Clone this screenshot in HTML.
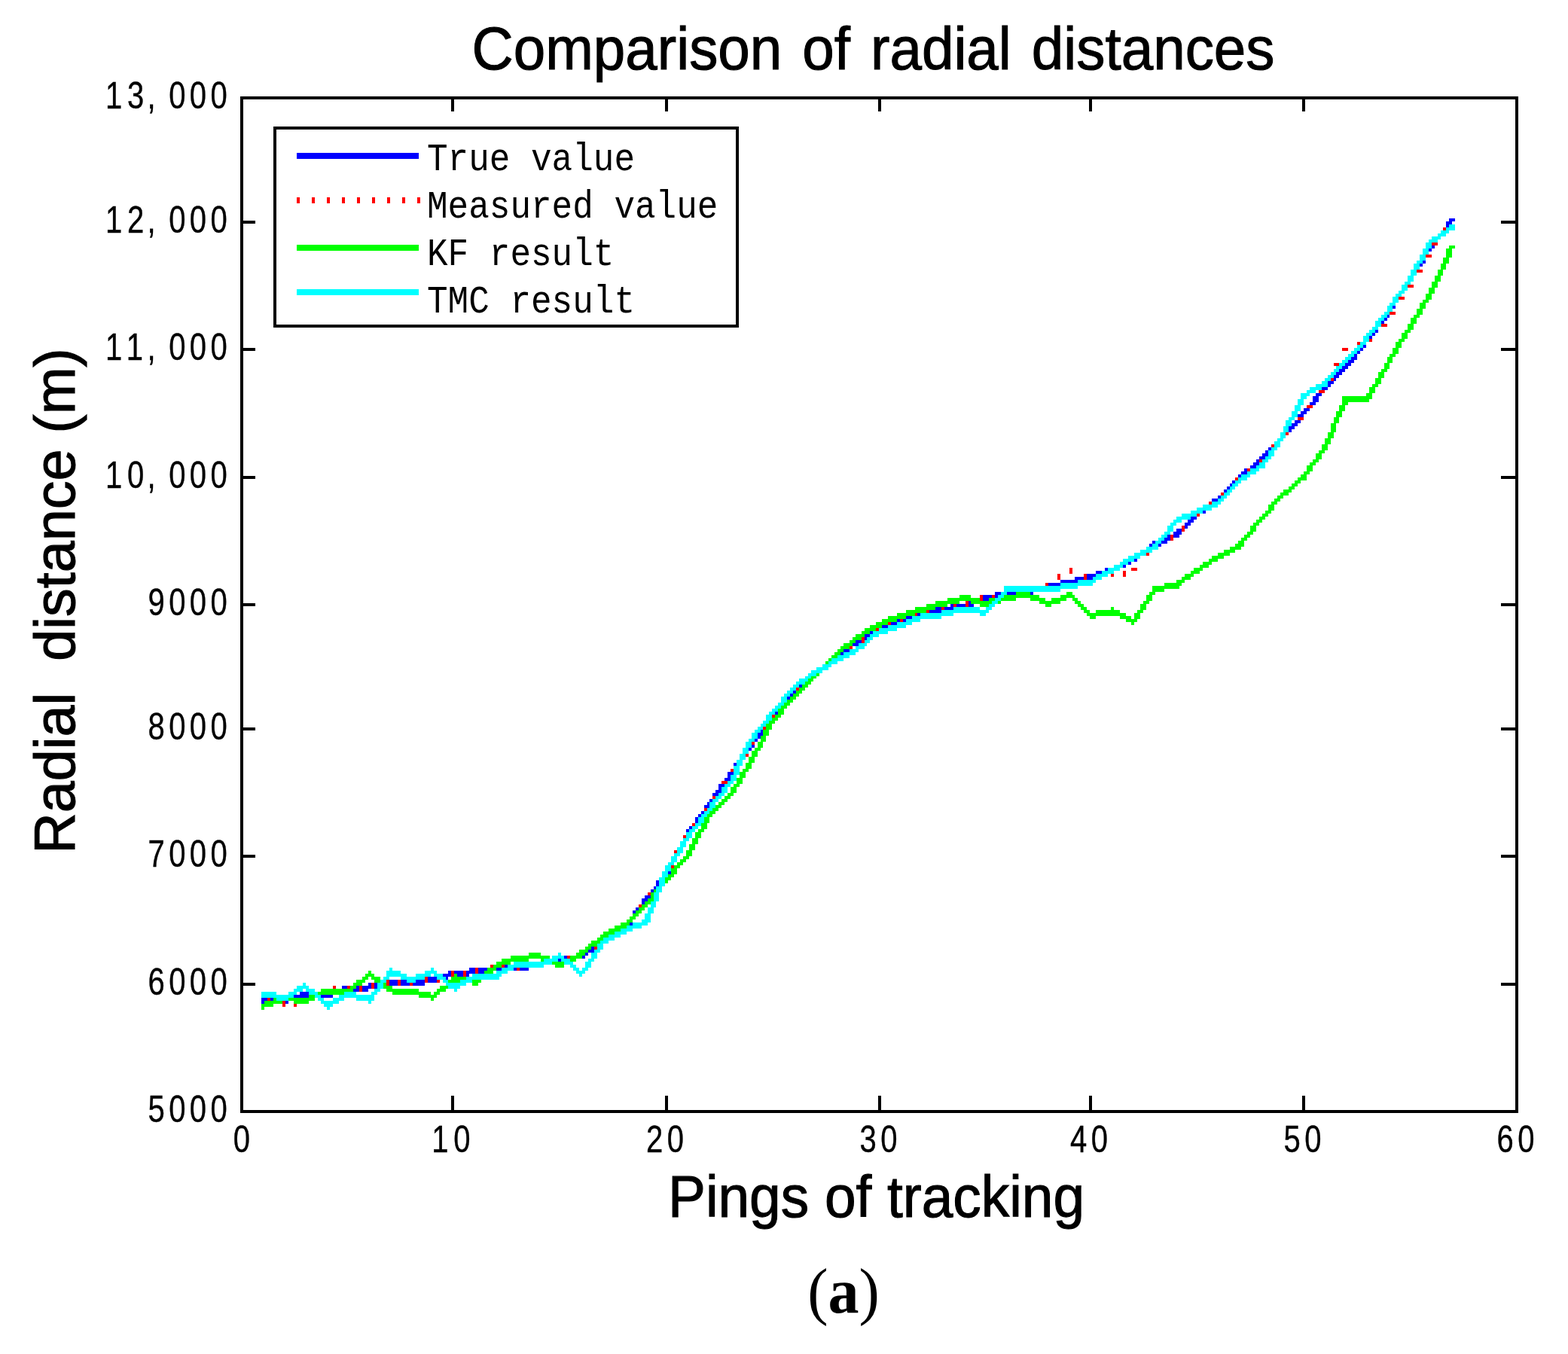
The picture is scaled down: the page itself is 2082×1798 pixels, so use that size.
<!DOCTYPE html>
<html lang="en"><head><meta charset="utf-8"><title>Comparison of radial distances</title>
<style>html,body{margin:0;padding:0;background:#fff}svg{display:block}text{fill:#000}</style></head><body>
<svg width="2082" height="1798" viewBox="0 0 2082 1798">
<rect x="0" y="0" width="2082" height="1798" fill="#fff"/>
<text id="title" transform="translate(1159.5,91.5) scale(0.955,1)" font-family='"Liberation Sans", sans-serif' font-size="80" text-anchor="middle" word-spacing="6" stroke="#000" stroke-width="1.1">Comparison of radial distances</text>
<text id="xlabel" x="1163.5" y="1616" font-family='"Liberation Sans", sans-serif' font-size="77" text-anchor="middle" textLength="553" lengthAdjust="spacingAndGlyphs" stroke="#000" stroke-width="1.1">Pings of tracking</text>
<text id="ylabel" transform="translate(98.5,798) rotate(-90)" font-family='"Liberation Sans", sans-serif' font-size="75.5" text-anchor="middle" xml:space="preserve" style="white-space:pre" stroke="#000" stroke-width="1.1">Radial  distance (m)</text>
<text id="cap" transform="translate(1120,1743) scale(0.96,1)" font-family='"Liberation Serif", serif' font-size="85.5" text-anchor="middle">(<tspan font-weight="bold">a</tspan>)</text>
<g id="curves" shape-rendering="crispEdges" stroke="none">
<path fill="#0000ff" d="M1924.3 290.1H1932.2V294.1H1924.3zM1920.3 294.1H1928.2V298.1H1920.3zM1920.3 298.1H1924.3V302.1H1920.3zM1900.6 326.1H1904.6V330.1H1900.6zM1896.7 330.1H1900.6V334.1H1896.7zM1888.8 346.1H1892.7V350.1H1888.8zM1884.8 350.1H1888.8V354.0H1884.8zM1849.4 406.0H1853.3V410.0H1849.4zM1841.5 418.0H1845.4V422.0H1841.5zM1837.5 422.0H1841.5V426.0H1837.5zM1833.6 426.0H1837.5V430.0H1833.6zM1825.7 438.0H1829.6V442.0H1825.7zM1821.8 442.0H1825.7V445.9H1821.8zM1817.8 445.9H1821.8V449.9H1817.8zM1809.9 457.9H1813.9V461.9H1809.9zM1806.0 461.9H1809.9V465.9H1806.0zM1802.0 465.9H1806.0V469.9H1802.0zM1798.1 469.9H1802.0V473.9H1798.1zM1794.2 473.9H1802.0V477.9H1794.2zM1790.2 477.9H1798.1V481.9H1790.2zM1786.3 481.9H1794.2V485.9H1786.3zM1782.3 485.9H1790.2V489.9H1782.3zM1778.4 489.9H1786.3V493.9H1778.4zM1774.4 493.9H1782.3V497.9H1774.4zM1770.5 497.9H1778.4V501.9H1770.5zM1770.5 501.9H1774.4V505.9H1770.5zM1762.6 505.9H1770.5V509.9H1762.6zM1762.6 509.9H1766.6V513.9H1762.6zM1754.7 513.9H1762.6V517.9H1754.7zM1746.8 521.9H1754.7V525.9H1746.8zM1742.9 525.9H1750.8V533.9H1742.9zM1739.0 533.9H1746.8V537.8H1739.0zM1731.1 541.8H1739.0V545.8H1731.1zM1727.1 545.8H1735.0V549.8H1727.1zM1723.2 549.8H1731.1V553.8H1723.2zM1719.2 557.8H1727.1V561.8H1719.2zM1715.3 561.8H1723.2V565.8H1715.3zM1711.3 565.8H1719.2V569.8H1711.3zM1711.3 569.8H1715.3V573.8H1711.3zM1683.7 593.8H1687.7V597.8H1683.7zM1679.8 597.8H1683.7V601.8H1679.8zM1675.9 601.8H1683.7V605.8H1675.9zM1671.9 605.8H1679.8V609.8H1671.9zM1668.0 609.8H1671.9V613.8H1668.0zM1664.0 613.8H1671.9V617.8H1664.0zM1660.1 617.8H1668.0V621.8H1660.1zM1652.2 621.8H1656.1V625.7H1652.2zM1648.3 625.7H1656.1V629.7H1648.3zM1644.3 629.7H1648.3V633.7H1644.3zM1636.4 637.7H1640.4V641.7H1636.4zM1632.5 641.7H1636.4V645.7H1632.5zM1628.5 645.7H1632.5V649.7H1628.5zM1624.6 649.7H1628.5V653.7H1624.6zM1616.7 657.7H1620.7V661.7H1616.7zM1608.8 661.7H1616.7V665.7H1608.8zM1597.0 677.7H1600.9V681.7H1597.0zM1581.2 685.7H1589.1V689.7H1581.2zM1577.3 689.7H1585.2V693.7H1577.3zM1573.3 693.7H1581.2V697.7H1573.3zM1573.3 697.7H1577.3V701.7H1573.3zM1561.5 701.7H1569.4V705.7H1561.5zM1557.6 705.7H1569.4V709.7H1557.6zM1549.7 709.7H1553.6V713.7H1549.7zM1557.6 709.7H1565.5V713.7H1557.6zM1545.7 713.7H1553.6V717.6H1545.7zM1541.8 717.6H1549.7V721.6H1541.8zM1530.0 717.6H1533.9V721.6H1530.0zM1526.0 721.6H1530.0V725.6H1526.0zM1537.8 721.6H1541.8V725.6H1537.8zM1506.3 741.6H1510.2V745.6H1506.3zM1498.4 745.6H1502.4V749.6H1498.4zM1490.5 749.6H1494.5V753.6H1490.5zM1466.9 753.6H1470.8V757.6H1466.9zM1455.0 757.6H1462.9V761.6H1455.0zM1443.2 761.6H1455.0V765.6H1443.2zM1427.4 765.6H1439.3V769.6H1427.4zM1443.2 765.6H1451.1V769.6H1443.2zM1407.7 769.6H1431.4V773.6H1407.7zM1391.9 773.6H1407.7V777.6H1391.9zM1321.0 785.6H1328.9V789.6H1321.0zM1336.7 785.6H1348.6V789.6H1336.7zM1368.3 785.6H1372.2V789.6H1368.3zM1305.2 789.6H1317.0V793.6H1305.2zM1321.0 789.6H1324.9V793.6H1321.0zM1305.2 793.6H1313.1V797.6H1305.2zM1285.5 797.6H1289.4V801.6H1285.5zM1269.7 801.6H1281.5V805.6H1269.7zM1285.5 801.6H1293.4V805.6H1285.5zM1261.8 801.6H1265.8V805.6H1261.8zM1253.9 805.6H1265.8V809.5H1253.9zM1242.1 805.6H1250.0V809.5H1242.1zM1234.2 809.5H1250.0V813.5H1234.2zM1218.4 813.5H1222.4V817.5H1218.4zM1202.7 817.5H1210.6V821.5H1202.7zM1198.7 821.5H1202.7V825.5H1198.7zM1190.8 821.5H1194.8V825.5H1190.8zM1183.0 825.5H1190.8V829.5H1183.0zM1171.1 829.5H1179.0V833.5H1171.1zM1155.4 837.5H1159.3V841.5H1155.4zM1147.5 841.5H1155.4V845.5H1147.5zM1147.5 845.5H1151.4V849.5H1147.5zM1135.6 849.5H1143.5V853.5H1135.6zM1131.7 853.5H1139.6V857.5H1131.7zM1119.9 861.5H1127.8V865.5H1119.9zM1115.9 865.5H1119.9V869.5H1115.9zM1060.7 909.4H1064.7V913.4H1060.7zM1052.8 917.4H1056.8V921.4H1052.8zM1048.9 921.4H1052.8V925.4H1048.9zM1044.9 925.4H1048.9V929.4H1044.9zM1029.2 945.4H1033.1V949.4H1029.2zM1009.5 969.4H1013.4V973.4H1009.5zM1005.5 973.4H1013.4V977.4H1005.5zM1005.5 977.4H1009.5V981.4H1005.5zM1001.6 981.4H1005.5V985.4H1001.6zM997.6 989.3H1001.6V993.3H997.6zM993.7 993.3H997.6V997.3H993.7zM974.0 1013.3H977.9V1017.3H974.0zM966.1 1025.3H974.0V1029.3H966.1zM966.1 1029.3H970.0V1033.3H966.1zM962.1 1033.3H970.0V1037.3H962.1zM954.3 1041.3H962.1V1045.3H954.3zM954.3 1045.3H958.2V1049.3H954.3zM950.3 1049.3H958.2V1053.3H950.3zM946.4 1053.3H954.3V1057.3H946.4zM942.4 1061.3H946.4V1065.3H942.4zM938.5 1065.3H942.4V1069.3H938.5zM934.5 1069.3H942.4V1073.3H934.5zM930.6 1077.3H934.5V1081.2H930.6zM926.7 1081.2H930.6V1085.2H926.7zM922.7 1085.2H926.7V1093.2H922.7zM914.8 1097.2H918.8V1101.2H914.8zM910.9 1101.2H914.8V1105.2H910.9zM887.2 1157.2H891.2V1161.2H887.2zM871.4 1169.2H875.4V1177.1H871.4zM867.5 1177.1H871.4V1181.1H867.5zM863.6 1181.1H867.5V1185.1H863.6zM855.7 1189.1H863.6V1193.1H855.7zM851.7 1193.1H859.6V1197.1H851.7zM851.7 1197.1H855.7V1201.1H851.7zM843.8 1205.1H847.8V1209.1H843.8zM839.9 1209.1H843.8V1213.1H839.9zM836.0 1225.1H839.9V1229.1H836.0zM784.7 1257.1H788.6V1261.0H784.7zM780.8 1261.0H788.6V1265.0H780.8zM776.8 1265.0H780.8V1269.0H776.8zM772.9 1269.0H776.8V1273.0H772.9zM749.2 1269.0H753.2V1273.0H749.2zM741.3 1273.0H745.3V1277.0H741.3zM670.3 1281.0H674.3V1285.0H670.3zM634.9 1285.0H646.7V1289.0H634.9zM682.2 1285.0H686.1V1289.0H682.2zM623.0 1285.0H630.9V1289.0H623.0zM690.1 1285.0H701.9V1289.0H690.1zM658.5 1285.0H666.4V1289.0H658.5zM619.1 1289.0H630.9V1293.0H619.1zM634.9 1289.0H642.7V1293.0H634.9zM595.4 1289.0H599.4V1293.0H595.4zM603.3 1289.0H615.1V1293.0H603.3zM607.3 1293.0H615.1V1297.0H607.3zM619.1 1293.0H623.0V1297.0H619.1zM587.5 1293.0H599.4V1297.0H587.5zM591.5 1297.0H595.4V1301.0H591.5zM567.8 1297.0H579.7V1305.0H567.8zM532.3 1301.0H540.2V1305.0H532.3zM552.0 1301.0H563.9V1305.0H552.0zM516.6 1301.0H528.4V1309.0H516.6zM532.3 1305.0H544.2V1309.0H532.3zM489.0 1305.0H492.9V1309.0H489.0zM548.1 1305.0H563.9V1309.0H548.1zM496.8 1305.0H500.8V1313.0H496.8zM453.5 1309.0H461.4V1313.0H453.5zM473.2 1309.0H477.1V1313.0H473.2zM481.1 1309.0H492.9V1313.0H481.1zM469.2 1313.0H477.1V1317.0H469.2zM481.1 1313.0H489.0V1317.0H481.1zM398.3 1317.0H410.1V1321.0H398.3zM425.9 1321.0H441.6V1325.0H425.9zM390.4 1321.0H410.1V1325.0H390.4zM347.0 1325.0H354.9V1329.0H347.0zM358.8 1325.0H362.8V1329.0H358.8zM347.0 1329.0H350.9V1333.0H347.0zM378.5 1329.0H382.5V1333.0H378.5z"/>
<path fill="#ff0000" d="M1916.4 302.1H1920.3V306.1H1916.4zM1900.6 322.1H1908.5V326.1H1900.6zM1892.7 338.1H1900.6V342.1H1892.7zM1880.9 358.0H1888.8V362.0H1880.9zM1869.1 378.0H1877.0V382.0H1869.1zM1857.2 394.0H1865.1V398.0H1857.2zM1845.4 414.0H1853.3V418.0H1845.4zM1833.6 430.0H1841.5V434.0H1833.6zM1817.8 449.9H1821.8V453.9H1817.8zM1802.0 453.9H1806.0V457.9H1802.0zM1782.3 461.9H1790.2V465.9H1782.3zM1770.5 481.9H1778.4V485.9H1770.5zM1766.6 501.9H1770.5V505.9H1766.6zM1750.8 517.9H1758.7V521.9H1750.8zM1735.0 537.8H1742.9V541.8H1735.0zM1723.2 553.8H1731.1V557.8H1723.2zM1707.4 573.8H1711.3V577.8H1707.4zM1687.7 589.8H1691.6V593.8H1687.7zM1671.9 609.8H1675.9V613.8H1671.9zM1656.1 621.8H1660.1V625.7H1656.1zM1640.4 633.7H1644.3V637.7H1640.4zM1620.7 653.7H1624.6V657.7H1620.7zM1604.9 665.7H1608.8V669.7H1604.9zM1589.1 681.7H1593.1V685.7H1589.1zM1569.4 697.7H1573.3V705.7H1569.4zM1553.6 709.7H1557.6V717.6H1553.6zM1522.1 733.6H1526.0V737.6H1522.1zM1502.4 753.6H1510.2V757.6H1502.4zM1419.6 753.6H1423.5V761.6H1419.6zM1490.5 757.6H1494.5V765.6H1490.5zM1474.8 761.6H1478.7V765.6H1474.8zM1439.3 761.6H1443.2V769.6H1439.3zM1403.8 761.6H1407.7V769.6H1403.8zM1388.0 773.6H1391.9V777.6H1388.0zM1317.0 789.6H1321.0V793.6H1317.0zM1301.3 789.6H1305.2V797.6H1301.3zM1281.5 797.6H1285.5V805.6H1281.5zM1265.8 801.6H1269.7V805.6H1265.8zM1250.0 805.6H1253.9V809.5H1250.0zM1230.3 809.5H1234.2V813.5H1230.3zM1214.5 813.5H1218.4V817.5H1214.5zM1194.8 821.5H1198.7V825.5H1194.8zM1179.0 825.5H1183.0V829.5H1179.0zM1163.2 833.5H1167.2V837.5H1163.2zM1143.5 845.5H1147.5V853.5H1143.5zM1127.8 857.5H1131.7V861.5H1127.8zM1056.8 913.4H1060.7V917.4H1056.8zM1025.2 949.4H1029.2V953.4H1025.2zM1013.4 965.4H1017.3V969.4H1013.4zM997.6 985.4H1001.6V989.3H997.6zM989.7 1001.3H993.7V1005.3H989.7zM970.0 1021.3H974.0V1025.3H970.0zM958.2 1037.3H966.1V1041.3H958.2zM946.4 1057.3H950.3V1061.3H946.4zM934.5 1073.3H938.5V1077.3H934.5zM918.8 1093.2H922.7V1097.2H918.8zM906.9 1109.2H910.9V1113.2H906.9zM895.1 1129.2H899.0V1133.2H895.1zM891.2 1149.2H895.1V1153.2H891.2zM859.6 1185.1H863.6V1189.1H859.6zM847.8 1201.1H851.7V1205.1H847.8zM788.6 1257.1H792.6V1261.0H788.6zM753.2 1269.0H757.1V1273.0H753.2zM650.6 1281.0H654.6V1285.0H650.6zM666.4 1281.0H670.3V1285.0H666.4zM686.1 1285.0H690.1V1289.0H686.1zM630.9 1285.0H634.9V1293.0H630.9zM615.1 1289.0H619.1V1297.0H615.1zM599.4 1289.0H603.3V1297.0H599.4zM563.9 1297.0H567.8V1305.0H563.9zM579.7 1301.0H583.6V1305.0H579.7zM512.6 1301.0H516.6V1309.0H512.6zM528.4 1301.0H532.3V1309.0H528.4zM544.2 1305.0H548.1V1309.0H544.2zM492.9 1305.0H496.8V1313.0H492.9zM441.6 1309.0H445.6V1313.0H441.6zM461.4 1309.0H465.3V1313.0H461.4zM477.1 1309.0H481.1V1317.0H477.1zM354.9 1325.0H358.8V1329.0H354.9zM374.6 1329.0H378.5V1337.0H374.6zM390.4 1333.0H394.3V1337.0H390.4z"/>
<path fill="#00ff00" d="M1924.3 326.1H1932.2V330.1H1924.3zM1920.3 330.1H1928.2V342.1H1920.3zM1916.4 342.1H1924.3V350.1H1916.4zM1912.5 350.1H1920.3V358.0H1912.5zM1908.5 358.0H1916.4V366.0H1908.5zM1904.6 366.0H1912.5V374.0H1904.6zM1900.6 374.0H1908.5V382.0H1900.6zM1896.7 382.0H1904.6V390.0H1896.7zM1892.7 390.0H1900.6V398.0H1892.7zM1888.8 398.0H1896.7V402.0H1888.8zM1884.8 402.0H1892.7V410.0H1884.8zM1880.9 410.0H1888.8V418.0H1880.9zM1877.0 418.0H1884.8V422.0H1877.0zM1873.0 422.0H1880.9V430.0H1873.0zM1869.1 430.0H1877.0V438.0H1869.1zM1865.1 438.0H1873.0V442.0H1865.1zM1861.2 442.0H1869.1V449.9H1861.2zM1857.2 449.9H1865.1V453.9H1857.2zM1853.3 453.9H1861.2V461.9H1853.3zM1849.4 461.9H1857.2V469.9H1849.4zM1845.4 469.9H1853.3V473.9H1845.4zM1841.5 473.9H1849.4V481.9H1841.5zM1837.5 481.9H1845.4V489.9H1837.5zM1833.6 489.9H1841.5V493.9H1833.6zM1829.6 493.9H1837.5V501.9H1829.6zM1825.7 501.9H1833.6V509.9H1825.7zM1821.8 509.9H1829.6V513.9H1821.8zM1817.8 513.9H1825.7V521.9H1817.8zM1813.9 521.9H1821.8V525.9H1813.9zM1782.3 525.9H1821.8V529.9H1782.3zM1782.3 529.9H1817.8V533.9H1782.3zM1782.3 533.9H1790.2V537.8H1782.3zM1778.4 537.8H1786.3V545.8H1778.4zM1774.4 545.8H1782.3V553.8H1774.4zM1770.5 553.8H1778.4V561.8H1770.5zM1766.6 561.8H1774.4V573.8H1766.6zM1762.6 573.8H1770.5V581.8H1762.6zM1758.7 581.8H1766.6V589.8H1758.7zM1754.7 589.8H1762.6V597.8H1754.7zM1750.8 597.8H1758.7V601.8H1750.8zM1746.8 601.8H1754.7V609.8H1746.8zM1742.9 609.8H1750.8V613.8H1742.9zM1739.0 613.8H1746.8V617.8H1739.0zM1735.0 617.8H1742.9V625.7H1735.0zM1731.1 625.7H1739.0V629.7H1731.1zM1727.1 629.7H1735.0V633.7H1727.1zM1723.2 633.7H1735.0V637.7H1723.2zM1719.2 637.7H1727.1V641.7H1719.2zM1715.3 641.7H1723.2V645.7H1715.3zM1711.3 645.7H1719.2V649.7H1711.3zM1703.5 649.7H1715.3V653.7H1703.5zM1699.5 653.7H1711.3V657.7H1699.5zM1695.6 657.7H1703.5V661.7H1695.6zM1691.6 661.7H1699.5V665.7H1691.6zM1687.7 665.7H1695.6V669.7H1687.7zM1683.7 669.7H1691.6V677.7H1683.7zM1679.8 677.7H1687.7V681.7H1679.8zM1675.9 681.7H1683.7V685.7H1675.9zM1671.9 685.7H1679.8V689.7H1671.9zM1668.0 689.7H1675.9V693.7H1668.0zM1664.0 693.7H1671.9V697.7H1664.0zM1660.1 697.7H1668.0V705.7H1660.1zM1656.1 705.7H1664.0V709.7H1656.1zM1652.2 709.7H1660.1V713.7H1652.2zM1648.3 713.7H1656.1V717.6H1648.3zM1644.3 717.6H1652.2V721.6H1644.3zM1640.4 721.6H1652.2V725.6H1640.4zM1632.5 725.6H1648.3V729.6H1632.5zM1624.6 729.6H1640.4V733.6H1624.6zM1616.7 733.6H1632.5V737.6H1616.7zM1608.8 737.6H1624.6V741.6H1608.8zM1604.9 741.6H1616.7V745.6H1604.9zM1597.0 745.6H1608.8V749.6H1597.0zM1593.1 749.6H1604.9V753.6H1593.1zM1585.2 753.6H1597.0V757.6H1585.2zM1581.2 757.6H1593.1V761.6H1581.2zM1573.3 761.6H1585.2V765.6H1573.3zM1569.4 765.6H1581.2V769.6H1569.4zM1561.5 769.6H1573.3V773.6H1561.5zM1545.7 773.6H1569.4V777.6H1545.7zM1530.0 777.6H1565.5V781.6H1530.0zM1530.0 781.6H1545.7V785.6H1530.0zM1415.6 785.6H1423.5V789.6H1415.6zM1348.6 785.6H1368.3V789.6H1348.6zM1526.0 785.6H1533.9V789.6H1526.0zM1407.7 789.6H1427.4V793.6H1407.7zM1332.8 789.6H1380.1V793.6H1332.8zM1273.7 789.6H1289.4V793.6H1273.7zM1522.1 789.6H1530.0V797.6H1522.1zM1313.1 793.6H1321.0V797.6H1313.1zM1423.5 793.6H1431.4V797.6H1423.5zM1257.9 793.6H1301.3V797.6H1257.9zM1395.9 793.6H1415.6V797.6H1395.9zM1368.3 793.6H1388.0V797.6H1368.3zM1328.9 793.6H1348.6V797.6H1328.9zM1242.1 797.6H1273.7V801.6H1242.1zM1380.1 797.6H1407.7V801.6H1380.1zM1324.9 797.6H1328.9V801.6H1324.9zM1289.4 797.6H1317.0V801.6H1289.4zM1518.1 797.6H1526.0V801.6H1518.1zM1427.4 797.6H1435.3V801.6H1427.4zM1388.0 801.6H1395.9V805.6H1388.0zM1301.3 801.6H1313.1V805.6H1301.3zM1431.4 801.6H1439.3V805.6H1431.4zM1230.3 801.6H1257.9V805.6H1230.3zM1514.2 801.6H1522.1V809.5H1514.2zM1214.5 805.6H1242.1V809.5H1214.5zM1474.8 805.6H1478.7V809.5H1474.8zM1435.3 805.6H1443.2V809.5H1435.3zM1510.2 809.5H1518.1V813.5H1510.2zM1439.3 809.5H1447.2V813.5H1439.3zM1455.0 809.5H1486.6V813.5H1455.0zM1202.7 809.5H1230.3V813.5H1202.7zM1190.8 813.5H1214.5V817.5H1190.8zM1443.2 813.5H1494.5V817.5H1443.2zM1506.3 813.5H1514.2V821.5H1506.3zM1179.0 817.5H1202.7V821.5H1179.0zM1486.6 817.5H1502.4V821.5H1486.6zM1447.2 817.5H1455.0V821.5H1447.2zM1494.5 821.5H1510.2V825.5H1494.5zM1171.1 821.5H1190.8V825.5H1171.1zM1502.4 825.5H1506.3V829.5H1502.4zM1163.2 825.5H1179.0V829.5H1163.2zM1155.4 829.5H1171.1V833.5H1155.4zM1147.5 833.5H1163.2V837.5H1147.5zM1143.5 837.5H1155.4V841.5H1143.5zM1135.6 841.5H1147.5V845.5H1135.6zM1131.7 845.5H1143.5V849.5H1131.7zM1127.8 849.5H1135.6V853.5H1127.8zM1119.9 853.5H1131.7V857.5H1119.9zM1115.9 857.5H1127.8V861.5H1115.9zM1112.0 861.5H1119.9V865.5H1112.0zM1108.0 865.5H1115.9V869.5H1108.0zM1104.1 869.5H1112.0V873.5H1104.1zM1100.2 873.5H1104.1V877.5H1100.2zM1096.2 877.5H1100.2V881.5H1096.2zM1084.4 893.5H1088.3V897.5H1084.4zM1076.5 897.5H1084.4V901.4H1076.5zM1072.6 901.4H1080.4V905.4H1072.6zM1068.6 905.4H1076.5V909.4H1068.6zM1064.7 909.4H1072.6V913.4H1064.7zM1060.7 913.4H1068.6V917.4H1060.7zM1056.8 917.4H1064.7V921.4H1056.8zM1052.8 921.4H1060.7V925.4H1052.8zM1048.9 925.4H1056.8V929.4H1048.9zM1044.9 929.4H1052.8V933.4H1044.9zM1041.0 933.4H1048.9V937.4H1041.0zM1037.1 937.4H1044.9V941.4H1037.1zM1033.1 941.4H1041.0V949.4H1033.1zM1029.2 949.4H1037.1V953.4H1029.2zM1025.2 953.4H1033.1V957.4H1025.2zM1021.3 957.4H1029.2V961.4H1021.3zM1017.3 961.4H1025.2V969.4H1017.3zM1013.4 969.4H1021.3V977.4H1013.4zM1009.5 977.4H1017.3V985.4H1009.5zM1005.5 985.4H1013.4V993.3H1005.5zM1001.6 993.3H1009.5V997.3H1001.6zM997.6 997.3H1005.5V1005.3H997.6zM993.7 1005.3H1001.6V1013.3H993.7zM989.7 1013.3H997.6V1021.3H989.7zM985.8 1021.3H993.7V1025.3H985.8zM981.9 1025.3H989.7V1033.3H981.9zM977.9 1033.3H985.8V1041.3H977.9zM974.0 1041.3H981.9V1045.3H974.0zM970.0 1045.3H977.9V1053.3H970.0zM966.1 1053.3H974.0V1057.3H966.1zM962.1 1057.3H970.0V1061.3H962.1zM958.2 1061.3H966.1V1065.3H958.2zM954.3 1065.3H962.1V1069.3H954.3zM950.3 1069.3H958.2V1073.3H950.3zM946.4 1073.3H954.3V1077.3H946.4zM942.4 1077.3H950.3V1081.2H942.4zM938.5 1081.2H946.4V1085.2H938.5zM934.5 1085.2H942.4V1093.2H934.5zM930.6 1093.2H938.5V1101.2H930.6zM926.7 1101.2H934.5V1105.2H926.7zM922.7 1105.2H930.6V1113.2H922.7zM918.8 1113.2H926.7V1121.2H918.8zM914.8 1121.2H922.7V1129.2H914.8zM910.9 1129.2H918.8V1137.2H910.9zM906.9 1137.2H914.8V1141.2H906.9zM903.0 1141.2H910.9V1145.2H903.0zM899.0 1145.2H906.9V1149.2H899.0zM895.1 1149.2H903.0V1153.2H895.1zM891.2 1153.2H899.0V1161.2H891.2zM887.2 1161.2H895.1V1165.2H887.2zM883.3 1165.2H891.2V1169.2H883.3zM883.3 1169.2H887.2V1173.1H883.3zM867.5 1181.1H871.4V1185.1H867.5zM863.6 1185.1H867.5V1193.1H863.6zM859.6 1193.1H867.5V1197.1H859.6zM855.7 1197.1H863.6V1201.1H855.7zM851.7 1201.1H859.6V1205.1H851.7zM847.8 1205.1H855.7V1209.1H847.8zM843.8 1209.1H851.7V1213.1H843.8zM839.9 1213.1H847.8V1217.1H839.9zM836.0 1217.1H843.8V1221.1H836.0zM832.0 1221.1H839.9V1225.1H832.0zM824.1 1225.1H836.0V1229.1H824.1zM816.2 1229.1H832.0V1233.1H816.2zM808.4 1233.1H824.1V1237.1H808.4zM800.5 1237.1H816.2V1241.1H800.5zM796.5 1241.1H808.4V1245.1H796.5zM792.6 1245.1H800.5V1249.1H792.6zM784.7 1249.1H796.5V1253.1H784.7zM780.8 1253.1H792.6V1257.1H780.8zM776.8 1257.1H784.7V1261.0H776.8zM768.9 1261.0H780.8V1265.0H768.9zM765.0 1265.0H776.8V1269.0H765.0zM701.9 1265.0H717.7V1269.0H701.9zM678.2 1269.0H729.5V1273.0H678.2zM757.1 1269.0H772.9V1273.0H757.1zM757.1 1273.0H765.0V1277.0H757.1zM717.7 1273.0H721.6V1277.0H717.7zM666.4 1273.0H701.9V1277.0H666.4zM733.4 1277.0H749.2V1281.0H733.4zM658.5 1277.0H678.2V1281.0H658.5zM654.6 1281.0H666.4V1285.0H654.6zM737.4 1281.0H749.2V1285.0H737.4zM646.7 1285.0H658.5V1289.0H646.7zM642.7 1289.0H654.6V1293.0H642.7zM489.0 1289.0H492.9V1293.0H489.0zM603.3 1293.0H607.3V1297.0H603.3zM485.0 1293.0H496.8V1297.0H485.0zM492.9 1297.0H504.7V1301.0H492.9zM481.1 1297.0H489.0V1301.0H481.1zM599.4 1297.0H619.1V1301.0H599.4zM627.0 1301.0H638.8V1305.0H627.0zM496.8 1301.0H504.7V1305.0H496.8zM595.4 1301.0H611.2V1305.0H595.4zM473.2 1301.0H485.0V1305.0H473.2zM627.0 1305.0H634.9V1309.0H627.0zM469.2 1305.0H481.1V1309.0H469.2zM508.7 1305.0H512.6V1309.0H508.7zM583.6 1309.0H595.4V1313.0H583.6zM465.3 1309.0H473.2V1313.0H465.3zM508.7 1309.0H520.5V1313.0H508.7zM579.7 1313.0H591.5V1317.0H579.7zM425.9 1313.0H469.2V1317.0H425.9zM512.6 1313.0H556.0V1317.0H512.6zM575.7 1317.0H583.6V1321.0H575.7zM520.5 1317.0H571.8V1321.0H520.5zM421.9 1317.0H457.4V1321.0H421.9zM410.1 1321.0H418.0V1325.0H410.1zM556.0 1321.0H579.7V1325.0H556.0zM571.8 1325.0H575.7V1329.0H571.8zM362.8 1325.0H366.7V1329.0H362.8zM382.5 1325.0H418.0V1329.0H382.5zM350.9 1329.0H374.6V1333.0H350.9zM390.4 1329.0H410.1V1333.0H390.4zM347.0 1333.0H362.8V1337.0H347.0zM347.0 1337.0H350.9V1341.0H347.0z"/>
<path fill="#00ffff" d="M1924.3 298.1H1932.2V302.1H1924.3zM1920.3 302.1H1932.2V306.1H1920.3zM1912.5 306.1H1924.3V310.1H1912.5zM1908.5 310.1H1920.3V314.1H1908.5zM1900.6 314.1H1912.5V318.1H1900.6zM1896.7 318.1H1908.5V322.1H1896.7zM1892.7 322.1H1900.6V330.1H1892.7zM1888.8 330.1H1896.7V338.1H1888.8zM1884.8 338.1H1892.7V346.1H1884.8zM1880.9 346.1H1888.8V350.1H1880.9zM1877.0 350.1H1884.8V358.0H1877.0zM1873.0 358.0H1880.9V366.0H1873.0zM1869.1 366.0H1877.0V374.0H1869.1zM1865.1 374.0H1873.0V378.0H1865.1zM1861.2 378.0H1869.1V386.0H1861.2zM1857.2 386.0H1865.1V390.0H1857.2zM1853.3 390.0H1861.2V394.0H1853.3zM1849.4 394.0H1857.2V402.0H1849.4zM1845.4 402.0H1853.3V406.0H1845.4zM1841.5 406.0H1849.4V414.0H1841.5zM1837.5 414.0H1845.4V418.0H1837.5zM1833.6 418.0H1841.5V422.0H1833.6zM1829.6 422.0H1837.5V426.0H1829.6zM1825.7 426.0H1833.6V434.0H1825.7zM1821.8 434.0H1829.6V438.0H1821.8zM1817.8 438.0H1825.7V442.0H1817.8zM1813.9 442.0H1821.8V445.9H1813.9zM1809.9 445.9H1817.8V453.9H1809.9zM1806.0 453.9H1813.9V457.9H1806.0zM1802.0 457.9H1809.9V461.9H1802.0zM1798.1 461.9H1806.0V465.9H1798.1zM1794.2 465.9H1802.0V469.9H1794.2zM1790.2 469.9H1798.1V473.9H1790.2zM1786.3 473.9H1794.2V477.9H1786.3zM1782.3 477.9H1790.2V481.9H1782.3zM1778.4 481.9H1786.3V485.9H1778.4zM1774.4 485.9H1782.3V489.9H1774.4zM1770.5 489.9H1778.4V493.9H1770.5zM1766.6 493.9H1774.4V497.9H1766.6zM1762.6 497.9H1770.5V501.9H1762.6zM1758.7 501.9H1766.6V505.9H1758.7zM1754.7 505.9H1762.6V509.9H1754.7zM1746.8 509.9H1762.6V513.9H1746.8zM1739.0 513.9H1754.7V517.9H1739.0zM1735.0 517.9H1746.8V521.9H1735.0zM1727.1 521.9H1739.0V525.9H1727.1zM1727.1 525.9H1735.0V529.9H1727.1zM1723.2 529.9H1731.1V537.8H1723.2zM1719.2 537.8H1727.1V545.8H1719.2zM1715.3 545.8H1723.2V553.8H1715.3zM1711.3 553.8H1719.2V557.8H1711.3zM1707.4 557.8H1715.3V565.8H1707.4zM1703.5 565.8H1711.3V573.8H1703.5zM1699.5 573.8H1707.4V581.8H1699.5zM1695.6 581.8H1703.5V585.8H1695.6zM1691.6 585.8H1699.5V593.8H1691.6zM1687.7 593.8H1695.6V597.8H1687.7zM1683.7 597.8H1691.6V605.8H1683.7zM1679.8 605.8H1687.7V609.8H1679.8zM1675.9 609.8H1683.7V613.8H1675.9zM1671.9 613.8H1679.8V617.8H1671.9zM1668.0 617.8H1679.8V621.8H1668.0zM1660.1 621.8H1671.9V625.7H1660.1zM1656.1 625.7H1668.0V629.7H1656.1zM1648.3 629.7H1660.1V633.7H1648.3zM1644.3 633.7H1656.1V637.7H1644.3zM1640.4 637.7H1648.3V641.7H1640.4zM1636.4 641.7H1644.3V645.7H1636.4zM1632.5 645.7H1640.4V649.7H1632.5zM1628.5 649.7H1636.4V653.7H1628.5zM1624.6 653.7H1632.5V657.7H1624.6zM1620.7 657.7H1628.5V661.7H1620.7zM1616.7 661.7H1624.6V665.7H1616.7zM1608.8 665.7H1620.7V669.7H1608.8zM1597.0 669.7H1616.7V673.7H1597.0zM1589.1 673.7H1608.8V677.7H1589.1zM1581.2 677.7H1597.0V681.7H1581.2zM1569.4 681.7H1589.1V685.7H1569.4zM1561.5 685.7H1581.2V689.7H1561.5zM1557.6 689.7H1569.4V693.7H1557.6zM1553.6 693.7H1561.5V697.7H1553.6zM1549.7 697.7H1557.6V705.7H1549.7zM1545.7 705.7H1553.6V709.7H1545.7zM1541.8 709.7H1549.7V713.7H1541.8zM1537.8 713.7H1545.7V717.6H1537.8zM1533.9 717.6H1541.8V721.6H1533.9zM1530.0 721.6H1537.8V725.6H1530.0zM1522.1 725.6H1537.8V729.6H1522.1zM1514.2 729.6H1530.0V733.6H1514.2zM1506.3 733.6H1522.1V737.6H1506.3zM1498.4 737.6H1514.2V741.6H1498.4zM1490.5 741.6H1506.3V745.6H1490.5zM1486.6 745.6H1498.4V749.6H1486.6zM1478.7 749.6H1490.5V753.6H1478.7zM1470.8 753.6H1486.6V757.6H1470.8zM1462.9 757.6H1478.7V761.6H1462.9zM1455.0 761.6H1470.8V765.6H1455.0zM1451.1 765.6H1462.9V769.6H1451.1zM1431.4 769.6H1455.0V773.6H1431.4zM1407.7 773.6H1451.1V777.6H1407.7zM1332.8 777.6H1431.4V781.6H1332.8zM1332.8 781.6H1407.7V785.6H1332.8zM1328.9 785.6H1336.7V789.6H1328.9zM1324.9 789.6H1332.8V793.6H1324.9zM1321.0 793.6H1328.9V797.6H1321.0zM1317.0 797.6H1324.9V801.6H1317.0zM1313.1 801.6H1321.0V805.6H1313.1zM1309.1 805.6H1317.0V809.5H1309.1zM1265.8 805.6H1301.3V809.5H1265.8zM1250.0 809.5H1313.1V813.5H1250.0zM1222.4 813.5H1265.8V817.5H1222.4zM1301.3 813.5H1309.1V817.5H1301.3zM1210.6 817.5H1250.0V821.5H1210.6zM1202.7 821.5H1222.4V825.5H1202.7zM1190.8 825.5H1210.6V829.5H1190.8zM1179.0 829.5H1202.7V833.5H1179.0zM1167.2 833.5H1190.8V837.5H1167.2zM1159.3 837.5H1179.0V841.5H1159.3zM1155.4 841.5H1167.2V845.5H1155.4zM1151.4 845.5H1159.3V849.5H1151.4zM1147.5 849.5H1155.4V853.5H1147.5zM1139.6 853.5H1151.4V857.5H1139.6zM1135.6 857.5H1147.5V861.5H1135.6zM1127.8 861.5H1139.6V865.5H1127.8zM1119.9 865.5H1135.6V869.5H1119.9zM1112.0 869.5H1127.8V873.5H1112.0zM1104.1 873.5H1119.9V877.5H1104.1zM1100.2 877.5H1112.0V881.5H1100.2zM1092.3 881.5H1104.1V885.5H1092.3zM1084.4 885.5H1100.2V889.5H1084.4zM1076.5 889.5H1092.3V893.5H1076.5zM1072.6 893.5H1084.4V897.5H1072.6zM1068.6 897.5H1076.5V901.4H1068.6zM1060.7 901.4H1072.6V905.4H1060.7zM1056.8 905.4H1068.6V909.4H1056.8zM1052.8 909.4H1060.7V913.4H1052.8zM1048.9 913.4H1056.8V917.4H1048.9zM1044.9 917.4H1052.8V921.4H1044.9zM1041.0 921.4H1048.9V925.4H1041.0zM1037.1 925.4H1044.9V933.4H1037.1zM1033.1 933.4H1041.0V937.4H1033.1zM1029.2 937.4H1037.1V941.4H1029.2zM1025.2 941.4H1033.1V945.4H1025.2zM1021.3 945.4H1029.2V949.4H1021.3zM1017.3 949.4H1025.2V957.4H1017.3zM1013.4 957.4H1021.3V961.4H1013.4zM1009.5 961.4H1017.3V965.4H1009.5zM1005.5 965.4H1013.4V969.4H1005.5zM1001.6 969.4H1009.5V973.4H1001.6zM997.6 973.4H1005.5V981.4H997.6zM993.7 981.4H1001.6V985.4H993.7zM989.7 985.4H997.6V993.3H989.7zM985.8 993.3H993.7V1001.3H985.8zM981.9 1001.3H989.7V1009.3H981.9zM977.9 1009.3H985.8V1017.3H977.9zM974.0 1017.3H981.9V1029.3H974.0zM970.0 1029.3H977.9V1037.3H970.0zM966.1 1037.3H974.0V1041.3H966.1zM962.1 1041.3H970.0V1045.3H962.1zM958.2 1045.3H966.1V1053.3H958.2zM954.3 1053.3H962.1V1057.3H954.3zM950.3 1057.3H958.2V1061.3H950.3zM946.4 1061.3H954.3V1065.3H946.4zM942.4 1065.3H950.3V1073.3H942.4zM938.5 1073.3H946.4V1077.3H938.5zM934.5 1077.3H942.4V1081.2H934.5zM930.6 1081.2H938.5V1085.2H930.6zM926.7 1085.2H934.5V1093.2H926.7zM922.7 1093.2H930.6V1097.2H922.7zM918.8 1097.2H926.7V1101.2H918.8zM914.8 1101.2H922.7V1105.2H914.8zM910.9 1105.2H918.8V1113.2H910.9zM906.9 1113.2H914.8V1117.2H906.9zM903.0 1117.2H910.9V1125.2H903.0zM899.0 1125.2H906.9V1133.2H899.0zM895.1 1133.2H903.0V1137.2H895.1zM891.2 1137.2H899.0V1145.2H891.2zM887.2 1145.2H895.1V1149.2H887.2zM883.3 1149.2H891.2V1157.2H883.3zM879.3 1157.2H887.2V1165.2H879.3zM875.4 1165.2H883.3V1177.1H875.4zM871.4 1177.1H879.3V1185.1H871.4zM867.5 1185.1H875.4V1197.1H867.5zM863.6 1197.1H871.4V1205.1H863.6zM859.6 1205.1H867.5V1213.1H859.6zM855.7 1213.1H863.6V1221.1H855.7zM851.7 1221.1H863.6V1225.1H851.7zM839.9 1225.1H859.6V1229.1H839.9zM832.0 1229.1H851.7V1233.1H832.0zM824.1 1233.1H839.9V1237.1H824.1zM816.2 1237.1H832.0V1241.1H816.2zM808.4 1241.1H824.1V1245.1H808.4zM800.5 1245.1H816.2V1249.1H800.5zM796.5 1249.1H808.4V1253.1H796.5zM792.6 1253.1H800.5V1261.0H792.6zM788.6 1261.0H796.5V1265.0H788.6zM741.3 1265.0H745.3V1269.0H741.3zM784.7 1265.0H792.6V1273.0H784.7zM733.4 1269.0H749.2V1273.0H733.4zM780.8 1273.0H788.6V1277.0H780.8zM745.3 1273.0H757.1V1277.0H745.3zM721.6 1273.0H741.3V1277.0H721.6zM749.2 1277.0H761.0V1281.0H749.2zM682.2 1277.0H733.4V1281.0H682.2zM776.8 1277.0H784.7V1285.0H776.8zM757.1 1281.0H765.0V1285.0H757.1zM674.3 1281.0H721.6V1285.0H674.3zM571.8 1285.0H575.7V1289.0H571.8zM761.0 1285.0H768.9V1289.0H761.0zM772.9 1285.0H780.8V1289.0H772.9zM516.6 1285.0H520.5V1289.0H516.6zM666.4 1285.0H682.2V1289.0H666.4zM765.0 1289.0H776.8V1293.0H765.0zM563.9 1289.0H579.7V1293.0H563.9zM512.6 1289.0H532.3V1293.0H512.6zM658.5 1289.0H674.3V1293.0H658.5zM552.0 1293.0H571.8V1297.0H552.0zM512.6 1293.0H540.2V1297.0H512.6zM768.9 1293.0H772.9V1297.0H768.9zM627.0 1293.0H666.4V1297.0H627.0zM575.7 1293.0H587.5V1297.0H575.7zM619.1 1297.0H662.5V1301.0H619.1zM579.7 1297.0H591.5V1301.0H579.7zM508.7 1297.0H516.6V1301.0H508.7zM532.3 1297.0H563.9V1301.0H532.3zM504.7 1301.0H512.6V1305.0H504.7zM540.2 1301.0H552.0V1305.0H540.2zM611.2 1301.0H627.0V1305.0H611.2zM587.5 1301.0H595.4V1305.0H587.5zM591.5 1305.0H619.1V1309.0H591.5zM402.2 1305.0H406.1V1309.0H402.2zM500.8 1305.0H508.7V1313.0H500.8zM394.3 1309.0H410.1V1313.0H394.3zM595.4 1309.0H611.2V1313.0H595.4zM603.3 1313.0H607.3V1317.0H603.3zM390.4 1313.0H402.2V1317.0H390.4zM406.1 1313.0H418.0V1317.0H406.1zM496.8 1313.0H504.7V1317.0H496.8zM410.1 1317.0H421.9V1321.0H410.1zM382.5 1317.0H394.3V1321.0H382.5zM347.0 1317.0H366.7V1321.0H347.0zM492.9 1317.0H500.8V1321.0H492.9zM457.4 1317.0H473.2V1321.0H457.4zM418.0 1321.0H425.9V1325.0H418.0zM449.5 1321.0H496.8V1325.0H449.5zM347.0 1321.0H390.4V1325.0H347.0zM366.7 1325.0H382.5V1329.0H366.7zM473.2 1325.0H496.8V1329.0H473.2zM421.9 1325.0H429.8V1329.0H421.9zM441.6 1325.0H457.4V1329.0H441.6zM489.0 1329.0H492.9V1333.0H489.0zM425.9 1329.0H449.5V1333.0H425.9zM429.8 1333.0H441.6V1337.0H429.8zM433.8 1337.0H437.7V1341.0H433.8z"/>
</g>
<g fill="none" stroke="#000" stroke-width="4" shape-rendering="crispEdges">
<rect x="321" y="130" width="1693" height="1346"/>
<path d="M321 295 h18 M2014 295 h-21 M321 464 h18 M2014 464 h-21 M321 634 h18 M2014 634 h-21 M321 803 h18 M2014 803 h-21 M321 968 h18 M2014 968 h-21 M321 1137 h18 M2014 1137 h-21 M321 1307 h18 M2014 1307 h-21 M601 130 v18 M601 1476 v-21 M884.5 130 v18 M884.5 1476 v-21 M1168 130 v18 M1168 1476 v-21 M1447.5 130 v18 M1447.5 1476 v-21 M1731 130 v18 M1731 1476 v-21"/>
</g>
<g font-family='"Liberation Sans", sans-serif' font-size="50" stroke="#000" stroke-width="0.4">
<text transform="translate(141.4,144.0) scale(0.8,1)" x="-1.62 34.50 67.75 103.50 138.00 172.50">13,000</text>
<text transform="translate(141.4,309.0) scale(0.8,1)" x="-1.62 34.50 67.75 103.50 138.00 172.50">12,000</text>
<text transform="translate(141.4,478.0) scale(0.8,1)" x="-1.62 32.88 67.75 103.50 138.00 172.50">11,000</text>
<text transform="translate(141.4,648.0) scale(0.8,1)" x="-1.62 34.50 67.75 103.50 138.00 172.50">10,000</text>
<text transform="translate(196.6,817.0) scale(0.8,1)" x="0.00 34.50 69.00 103.50">9000</text>
<text transform="translate(196.6,982.0) scale(0.8,1)" x="0.00 34.50 69.00 103.50">8000</text>
<text transform="translate(196.6,1151.0) scale(0.8,1)" x="0.00 34.50 69.00 103.50">7000</text>
<text transform="translate(196.6,1321.0) scale(0.8,1)" x="0.00 34.50 69.00 103.50">6000</text>
<text transform="translate(196.6,1490.0) scale(0.8,1)" x="0.00 34.50 69.00 103.50">5000</text>
<text transform="translate(309.7,1530.0) scale(0.8,1)" x="0.00">0</text>
<text transform="translate(574.6,1530.0) scale(0.8,1)" x="-1.62 34.50">10</text>
<text transform="translate(858.1,1530.0) scale(0.8,1)" x="0.00 34.50">20</text>
<text transform="translate(1141.6,1530.0) scale(0.8,1)" x="0.00 34.50">30</text>
<text transform="translate(1421.1,1530.0) scale(0.8,1)" x="0.00 34.50">40</text>
<text transform="translate(1704.6,1530.0) scale(0.8,1)" x="0.00 34.50">50</text>
<text transform="translate(1987.6,1530.0) scale(0.8,1)" x="0.00 34.50">60</text>
</g>
<rect x="364.5" y="170" width="614" height="263" fill="#fff" stroke="#000" stroke-width="4" shape-rendering="crispEdges"/>
<g fill="none" stroke-width="8" shape-rendering="crispEdges">
<path stroke="#0000ff" d="M394 207 H555.5"/>
<path stroke="#ff0000" stroke-dasharray="4 16" d="M394 266 H558"/>
<path stroke="#00ff00" d="M394 329 H555.5"/>
<path stroke="#00ffff" d="M394 388 H555.5"/>
</g>
<g font-family='"Liberation Mono", monospace' font-size="46">
<text transform="translate(567,226) scale(1,1.12)">True value</text>
<text transform="translate(567,288.8) scale(1,1.12)">Measured value</text>
<text transform="translate(567,351.5) scale(1,1.12)">KF result</text>
<text transform="translate(567,414.8) scale(1,1.12)">TMC result</text>
</g>
</svg></body></html>
